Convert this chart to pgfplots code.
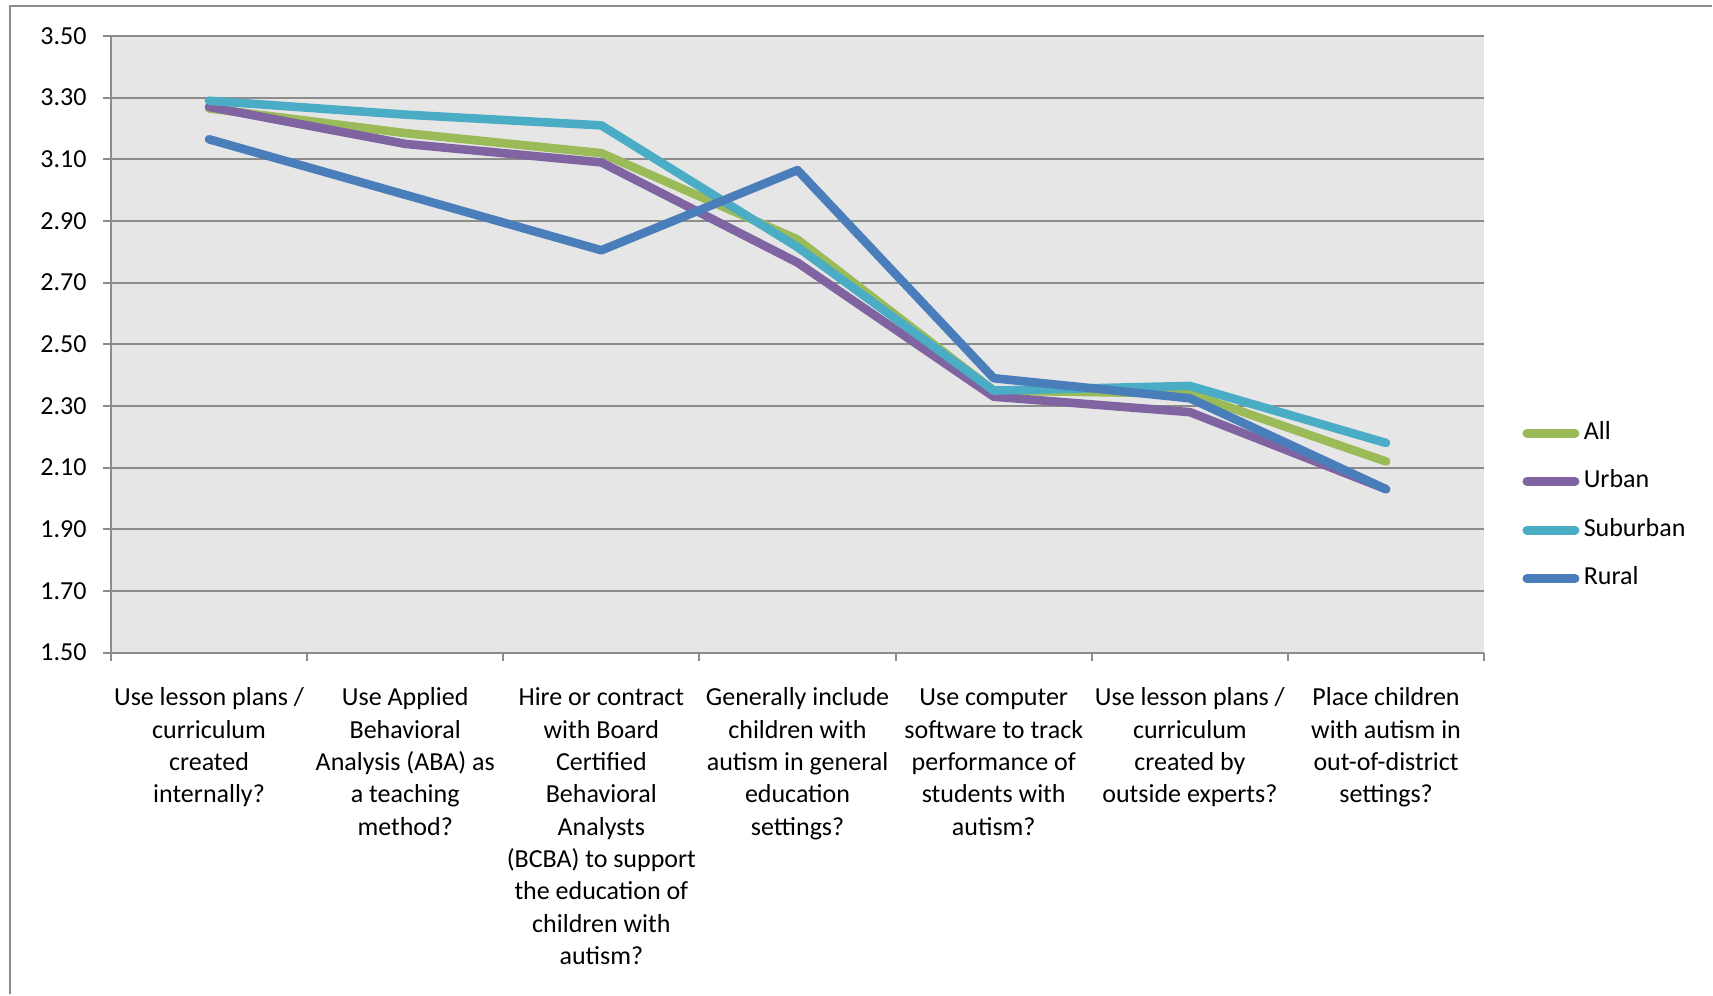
\documentclass[border=0pt]{standalone}
\usepackage{fontspec}
\setmainfont{Carlito}
\usepackage{pgfplots}
\pgfplotsset{compat=1.18}

\definecolor{cAll}{HTML}{9BBB59}
\definecolor{cUrban}{HTML}{8064A2}
\definecolor{cSuburban}{HTML}{4BACC6}
\definecolor{cRural}{HTML}{4A7EBB}
\definecolor{gridgray}{HTML}{8C8C8C}
\definecolor{plotbg}{HTML}{E6E6E6}

\newcommand{\lblfont}{\fontsize{13}{16.2}\selectfont}

\begin{document}
\begin{tikzpicture}
\begin{axis}[
    name=ax,
    scale only axis,
    width=687pt, height=308.5pt,
    xmin=-0.5, xmax=6.5,
    ymin=1.5, ymax=3.5,
    axis x line*=bottom,
    axis y line*=left,
    axis line style={gridgray, line width=1pt, -},
    axis background/.style={fill=plotbg},
    ymajorgrids,
    grid style={gridgray, line width=1pt},
    tick style={gridgray, line width=1pt},
    tick align=outside,
    major tick length=4pt,
    ytick={1.5,1.7,1.9,2.1,2.3,2.5,2.7,2.9,3.1,3.3,3.5},
    y tick label style={/pgf/number format/fixed, /pgf/number format/fixed zerofill,
        /pgf/number format/precision=2},
    /pgf/number format/assume math mode=true,
    yticklabel style={font=\lblfont, inner sep=0pt, xshift=-8pt},
    xtick={-0.5,0.5,1.5,2.5,3.5,4.5,5.5,6.5},
    xticklabels={},
    extra x ticks={0,1,2,3,4,5,6},
    extra x tick labels={
        {\strut Use lesson plans /\\curriculum\\created\\internally?},
        {\strut Use Applied\\Behavioral\\Analysis (ABA) as\\a teaching\\method?},
        {\strut Hire or contract\\with Board\\Certified\\Behavioral\\Analysts\\(BCBA) to support\\the education of\\children with\\autism?},
        {\strut Generally include\\children with\\autism in general\\education\\settings?},
        {\strut Use computer\\software to track\\performance of\\students with\\autism?},
        {\strut Use lesson plans /\\curriculum\\created by\\outside experts?},
        {\strut Place children\\with autism in\\out-of-district\\settings?}},
    extra x tick style={major tick length=0pt,
        xticklabel style={font=\lblfont, align=center, anchor=north, inner sep=0pt, yshift=-15pt}},
    legend style={at={(1.0245,0.238)}, anchor=west, draw=none, fill=none,
        inner sep=0pt, row sep=12.3pt, font=\lblfont,
        nodes={inner sep=0pt, text height=9pt, text depth=3pt}},
    legend cell align=left,
    legend image code/.code={
        \path (0pt,-2pt) (28.5pt,2pt);
        \draw[#1, line width=4.5pt, line cap=round] (2.25pt,0pt) -- (26.25pt,0pt);},
]
\addplot[cAll, line width=4.3pt, line cap=round, line join=round] coordinates {
    (0,3.265) (1,3.185) (2,3.12) (3,2.84) (4,2.35) (5,2.34) (6,2.12)};
\addlegendentry{All}
\addplot[cUrban, line width=4.3pt, line cap=round, line join=round] coordinates {
    (0,3.27) (1,3.15) (2,3.09) (3,2.765) (4,2.33) (5,2.28) (6,2.03)};
\addlegendentry{Urban}
\addplot[cSuburban, line width=4.3pt, line cap=round, line join=round] coordinates {
    (0,3.29) (1,3.245) (2,3.21) (3,2.815) (4,2.35) (5,2.365) (6,2.18)};
\addlegendentry{Suburban}
\addplot[cRural, line width=4.3pt, line cap=round, line join=round] coordinates {
    (0,3.165) (1,2.985) (2,2.805) (3,3.065) (4,2.39) (5,2.325) (6,2.03)};
\addlegendentry{Rural}
\end{axis}
% outer chart frame (only top and left edges are visible in the reference)
\draw[gridgray, line width=1pt] ([xshift=-50.5pt,yshift=-171pt]ax.south west)
    -- ([xshift=-50.5pt,yshift=15pt]ax.north west)
    -- ([xshift=114pt,yshift=15pt]ax.north east);
\path ([xshift=-55.5pt,yshift=-171pt]ax.south west) rectangle ([xshift=114pt,yshift=18pt]ax.north east);
\end{tikzpicture}
\end{document}
